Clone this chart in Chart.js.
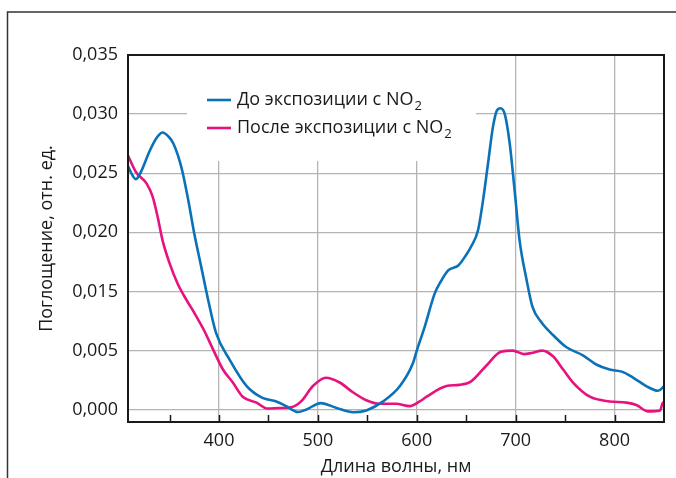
<!DOCTYPE html>
<html>
<head>
<meta charset="utf-8">
<script src="https://cdn.jsdelivr.net/npm/chart.js@4"></script>
<style>
  html, body { margin: 0; padding: 0; background: #fff; }
  #wrap { width: 676px; height: 478px; }
</style>
</head>
<body>
<div id="wrap"><canvas id="chart" width="676" height="478"></canvas></div>
<script>
// До экспозиции с NO2 (синяя кривая)
const beforeWavelength = [308, 312, 316, 321, 330, 337, 343, 349, 354, 362, 369, 375, 382, 389, 397, 411, 428, 444, 458, 468, 480, 488, 503, 519, 536, 549, 566, 583, 596, 600, 608, 618, 624, 632, 642, 650, 655, 662, 667, 672, 677, 681, 684.5, 689, 694, 699, 704, 711, 717, 726, 738, 751, 768, 782, 795, 808, 819, 832, 844, 849, 850];
const beforeAbsorbance = [0.0206, 0.0199, 0.0195, 0.0201, 0.0219, 0.0230, 0.02345, 0.0231, 0.0225, 0.0205, 0.0177, 0.0149, 0.0121, 0.0093, 0.0065, 0.0042, 0.0020, 0.0010, 0.0007, 0.0003, -0.0002, 0.0000, 0.00056, 0.00014, -0.00022, -0.00006, 0.0007, 0.0020, 0.0039, 0.0050, 0.0070, 0.0098, 0.0108, 0.0118, 0.0122, 0.0131, 0.0138, 0.0152, 0.0177, 0.0208, 0.0239, 0.0253, 0.0255, 0.0250, 0.0225, 0.0185, 0.0143, 0.0110, 0.0087, 0.0074, 0.0063, 0.0053, 0.0046, 0.0038, 0.0034, 0.0032, 0.0027, 0.0020, 0.0016, 0.0019, 0.0020];

// После экспозиции с NO2 (розовая кривая)
const afterWavelength = [308, 316, 327, 333, 338, 343, 350, 358, 367, 375, 385, 394, 404, 414, 424, 438, 449, 461, 473, 483, 495, 508, 522, 535, 549, 562, 579, 593, 603, 610, 630, 643, 655, 670, 685, 697, 709, 716, 727, 738, 748, 758, 775, 795, 812, 822, 834, 846, 849, 850];
const afterAbsorbance = [0.0215, 0.0201, 0.0191, 0.0180, 0.0163, 0.0143, 0.0124, 0.0107, 0.0093, 0.0082, 0.0067, 0.0051, 0.0034, 0.0023, 0.0011, 0.0006, 0.0001, 0.00014, 0.0002, 0.0007, 0.0020, 0.0027, 0.0023, 0.0015, 0.0008, 0.0005, 0.0005, 0.0003, 0.0007, 0.0011, 0.0020, 0.0021, 0.0024, 0.0037, 0.0049, 0.0050, 0.0047, 0.0048, 0.0050, 0.0045, 0.0034, 0.0023, 0.0011, 0.0007, 0.0006, 0.0004, -0.00014, -0.00006, 0.0006, 0.0006];

const xTickValues = [400, 500, 600, 700, 800];
const xMinorTicks = [350, 400, 450, 500, 550, 600, 650, 700, 750, 800];
const yTickValues = [0, 0.005, 0.010, 0.015, 0.020, 0.025, 0.030];
const yTickLabels = ['0,000', '0,005', '0,015', '0,020', '0,025', '0,030', '0,035'];

const seriesLabels = ['До экспозиции с NO₂', 'После экспозиции с NO₂'];
const colors = { before: '#0a72b8', after: '#e8127f', grid: '#b4b4b4', ink: '#1a1a1a' };
const fontFamily = '"Open Sans", "Noto Sans", sans-serif';
const fontSize = 18;

const toPoints = (xs, ys) => xs.map((x, i) => ({ x, y: ys[i] }));

// текст с подстрочной двойкой
const drawSubText = (ctx, text, x, y, size) => {
  const parts = text.split('₂');
  let cx = x;
  parts.forEach((part, i) => {
    ctx.font = `${size}px ${fontFamily}`;
    ctx.fillText(part, cx, y);
    cx += ctx.measureText(part).width;
    if (i < parts.length - 1) {
      ctx.font = `${Math.round(size * 0.7)}px ${fontFamily}`;
      ctx.fillText('2', cx + 1, y + 6);
      cx += ctx.measureText('2').width + 1;
    }
  });
};

const legendPlugin = {
  id: 'boxLegend',
  beforeDatasetsDraw(chart) {
    const { ctx, chartArea } = chart;
    ctx.save();
    ctx.fillStyle = '#fff';
    ctx.fillRect(187, chartArea.top + 1, 289, 105);
    ctx.textBaseline = 'middle';
    ctx.fillStyle = colors.ink;
    chart.data.datasets.forEach((ds, i) => {
      const y = 100 + i * 28;
      ctx.strokeStyle = ds.borderColor;
      ctx.lineWidth = 2.6;
      ctx.beginPath();
      ctx.moveTo(207, y);
      ctx.lineTo(231, y);
      ctx.stroke();
      drawSubText(ctx, ds.label, 237, y, fontSize);
    });
    ctx.restore();
  },
};

const framePlugin = {
  id: 'frame',
  afterDraw(chart) {
    const { ctx, chartArea, scales } = chart;
    ctx.save();
    ctx.strokeStyle = colors.ink;
    ctx.lineWidth = 2;
    ctx.strokeRect(chartArea.left, chartArea.top, chartArea.right - chartArea.left, chartArea.bottom - chartArea.top);
    ctx.lineWidth = 1.5;
    xMinorTicks.forEach((v) => {
      const px = Math.round(scales.x.getPixelForValue(v)) + 0.5;
      ctx.beginPath();
      ctx.moveTo(px, chartArea.bottom);
      ctx.lineTo(px, chartArea.bottom - 7);
      ctx.stroke();
    });
    // внешняя рамка рисунка
    ctx.strokeStyle = '#333';
    ctx.lineWidth = 1.5;
    ctx.beginPath();
    ctx.moveTo(7.5, 478);
    ctx.lineTo(7.5, 12);
    ctx.lineTo(676, 12);
    ctx.stroke();
    ctx.restore();
  },
};

const createChart = () => new Chart(document.getElementById('chart').getContext('2d'), {
  type: 'line',
  data: {
    datasets: [
      {
        label: seriesLabels[0],
        data: toPoints(beforeWavelength, beforeAbsorbance),
        borderColor: colors.before,
        borderWidth: 2.6,
        pointRadius: 0,
        cubicInterpolationMode: 'monotone',
      },
      {
        label: seriesLabels[1],
        data: toPoints(afterWavelength, afterAbsorbance),
        borderColor: colors.after,
        borderWidth: 2.6,
        pointRadius: 0,
        cubicInterpolationMode: 'monotone',
      },
    ],
  },
  options: {
    responsive: false,
    animation: false,
    layout: { padding: { left: 0, top: 55, right: 12, bottom: 0 } },
    plugins: { legend: { display: false }, tooltip: { enabled: false } },
    scales: {
      x: {
        type: 'linear',
        min: 308,
        max: 850,
        afterBuildTicks: (scale) => { scale.ticks = xTickValues.map((value) => ({ value })); },
        afterFit: (scale) => { scale.height = 56; },
        ticks: { color: colors.ink, font: { family: fontFamily, size: fontSize }, padding: 8, callback: (v) => String(v) },
        grid: { color: colors.grid, lineWidth: 1.3, drawTicks: false },
        border: { display: false },
        title: { display: true, text: 'Длина волны, нм', color: colors.ink, font: { family: fontFamily, size: fontSize }, padding: { top: 0, bottom: 0 } },
      },
      y: {
        min: -0.00104,
        max: 0.030,
        afterBuildTicks: (scale) => { scale.ticks = yTickValues.map((value) => ({ value })); },
        afterFit: (scale) => { scale.width = 128; },
        ticks: { color: colors.ink, font: { family: fontFamily, size: fontSize }, padding: 10, callback: (v, i) => yTickLabels[i] },
        grid: { color: colors.grid, lineWidth: 1.3, drawTicks: false },
        border: { display: false },
        title: { display: true, text: 'Поглощение, отн. ед.', color: colors.ink, font: { family: fontFamily, size: fontSize }, padding: { top: 36, bottom: 0 } },
      },
    },
  },
  plugins: [legendPlugin, framePlugin],
});

createChart();
</script>
</body>
</html>
